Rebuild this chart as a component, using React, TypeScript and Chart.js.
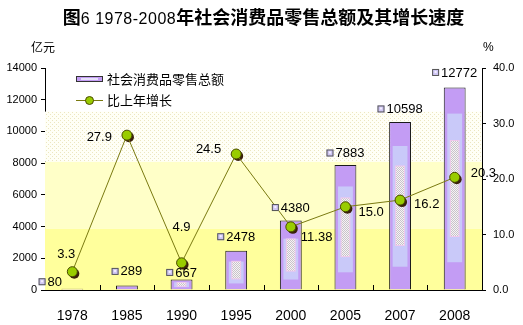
import React, { useEffect, useRef } from "react";
import { Chart, registerables } from "chart.js";

Chart.register(...registerables);

// ---------- data ----------
const titleBold1 = "图";
const titleNumbers = "6 1978-2008";
const titleBold2 = "年社会消费品零售总额及其增长速度";
const leftUnit = "亿元";
const rightUnit = "%";
const years = ["1978", "1985", "1990", "1995", "2000", "2005", "2007", "2008"];
const retailSales = [80, 289, 667, 2478, 4380, 7883, 10598, 12772];
const retailLabels = ["80", "289", "667", "2478", "4380", "7883", "10598", "12772"];
const growthRate = [3.3, 27.9, 4.9, 24.5, 11.38, 15.0, 16.2, 20.3];
const growthLabels = ["3.3", "27.9", "4.9", "24.5", "11.38", "15.0", "16.2", "20.3"];
const seriesNames = ["社会消费品零售总额", "比上年增长"];
const leftAxis = { min: 0, max: 14000, step: 2000 };
const rightAxis = { min: 0, max: 40, step: 10 };
const bandLimits = [3850, 8100, 11250];

// ---------- styles ----------
const VIOLET = "#c39cf4";
const LAVENDER = "#c9c9f9";
const LINE_COLOR = "#7a7a10";
const POINT_FILL = "#99cc00";
const POINT_BORDER = "#4a4a00";
const LABEL_FONT = '13px "Liberation Sans", Arial, sans-serif';
const CJK_FONT = '13px "Noto Sans CJK SC", sans-serif';

// label placement: [dx, dy, align]
const growthLabelPos: [number, number, CanvasTextAlign][] = [
  [-6, -17, "center"],
  [-15, 2, "right"],
  [0, -35, "center"],
  [-15, -5, "right"],
  [10, 11, "left"],
  [13, 6, "left"],
  [14, 4, "left"],
  [16, -4, "left"],
];
const barLabelPos: [number, number][] = [
  [-22, -7],
  [0, -14],
  [0, -7],
  [0, -14],
  [0, -13],
  [0, -12],
  [0, -13],
  [0, -15],
];

function makePattern(ctx: CanvasRenderingContext2D, base: string, dot: string, size: number) {
  const c = document.createElement("canvas");
  c.width = size;
  c.height = size;
  const g = c.getContext("2d")!;
  g.fillStyle = base;
  g.fillRect(0, 0, size, size);
  g.fillStyle = dot;
  g.fillRect(0, 0, 1, 1);
  g.fillRect(size / 2, size / 2, 1, 1);
  return ctx.createPattern(c, "repeat")!;
}

const decorPlugin = {
  id: "decor",
  beforeDatasetsDraw(chart: any) {
    const { ctx, chartArea } = chart;
    const y = chart.scales.y;
    const l = chartArea.left;
    const w = chartArea.right - chartArea.left;
    ctx.save();
    const p0 = y.getPixelForValue(0);
    const p1 = y.getPixelForValue(bandLimits[0]);
    const p2 = y.getPixelForValue(bandLimits[1]);
    const p3 = y.getPixelForValue(bandLimits[2]);
    ctx.fillStyle = "#ffff9c";
    ctx.fillRect(l, p1, w, p0 - p1);
    ctx.fillStyle = "#ffffc8";
    ctx.fillRect(l, p2, w, p1 - p2);
    ctx.fillStyle = makePattern(ctx, "#fffff6", "#ece6c0", 4);
    ctx.fillRect(l, p3, w, p2 - p3);
    ctx.restore();
  },
  beforeDatasetDraw(chart: any, args: any) {
    if (args.index !== 1) return;
    const { ctx } = chart;
    const meta = chart.getDatasetMeta(1);
    ctx.save();
    ctx.fillStyle = "#3a200c";
    meta.data.forEach((pt: any) => {
      ctx.beginPath();
      ctx.arc(pt.x + 2, pt.y + 2, 5, 0, Math.PI * 2);
      ctx.fill();
    });
    ctx.restore();
  },
  afterDatasetDraw(chart: any, args: any) {
    if (args.index !== 0) return;
    const { ctx } = chart;
    const meta = chart.getDatasetMeta(0);
    const dots = makePattern(ctx, "#f6f2f6", "#c8c4c8", 2);
    ctx.save();
    meta.data.forEach((bar: any) => {
      const h = bar.base - bar.y;
      if (h < 6) return;
      const left = bar.x - bar.width / 2;
      const right = bar.x + bar.width / 2;
      const lt = Math.min(0.06 * h + 14, 0.28 * h);
      const lb = 0.13 * h + 1;
      ctx.fillStyle = LAVENDER;
      ctx.fillRect(left + 3.5, bar.y + lt, right - left - 7, h - lt - lb);
      const wt = 0.26 * h;
      const wb = 0.26 * h;
      ctx.fillStyle = "#f0c8ec";
      ctx.fillRect(left + 6, bar.y + wt, right - left - 12, h - wt - wb);
      ctx.fillStyle = dots;
      ctx.fillRect(left + 7, bar.y + wt + 1, right - left - 14, h - wt - wb - 2);
    });
    ctx.restore();
  },
  afterDraw(chart: any) {
    const { ctx, chartArea } = chart;
    ctx.save();
    // category boundary ticks (pointing up)
    const n = years.length;
    const cw = (chartArea.right - chartArea.left) / n;
    ctx.strokeStyle = "#000";
    ctx.lineWidth = 1;
    for (let i = 1; i < n; i++) {
      const x = Math.round(chartArea.left + i * cw) + 0.5;
      ctx.beginPath();
      ctx.moveTo(x, chartArea.bottom);
      ctx.lineTo(x, chartArea.bottom - 5);
      ctx.stroke();
    }

    // bar value labels
    const barMeta = chart.getDatasetMeta(0);
    ctx.font = LABEL_FONT;
    ctx.textBaseline = "middle";
    barMeta.data.forEach((bar: any, i: number) => {
      const text = retailLabels[i];
      const tw = ctx.measureText(text).width;
      const total = 6 + 3 + tw;
      const [dx, dy] = barLabelPos[i];
      const x0 = bar.x + dx - total / 2;
      const yc = bar.y + dy;
      ctx.fillStyle = "#cfc6f4";
      ctx.fillRect(x0, yc - 3.5, 7, 7);
      ctx.strokeStyle = "#555";
      ctx.strokeRect(x0 + 0.5, yc - 3.5 + 0.5, 6, 6);
      ctx.fillStyle = "#f4f0ff";
      ctx.fillRect(x0 + 2.5, yc - 1.5, 2, 2);
      ctx.fillStyle = "#000";
      ctx.textAlign = "left";
      ctx.fillText(text, x0 + 9, yc + 0.5);
    });

    // growth labels
    const lineMeta = chart.getDatasetMeta(1);
    lineMeta.data.forEach((pt: any, i: number) => {
      const [dx, dy, align] = growthLabelPos[i];
      ctx.textAlign = align;
      ctx.fillStyle = "#000";
      ctx.fillText(growthLabels[i], pt.x + dx, pt.y + dy);
    });

    // legend
    ctx.fillStyle = VIOLET;
    ctx.fillRect(76, 76, 27, 6);
    ctx.fillStyle = "#e6e0fa";
    ctx.fillRect(81, 78, 17, 2);
    ctx.strokeStyle = "#333";
    ctx.strokeRect(76.5, 76.5, 26, 5);
    ctx.font = CJK_FONT;
    ctx.textAlign = "left";
    ctx.fillStyle = "#000";
    ctx.fillText(seriesNames[0], 107, 79);

    ctx.strokeStyle = LINE_COLOR;
    ctx.beginPath();
    ctx.moveTo(76, 100.5);
    ctx.lineTo(103, 100.5);
    ctx.stroke();
    ctx.beginPath();
    ctx.arc(89.5, 100.5, 4, 0, Math.PI * 2);
    ctx.fillStyle = POINT_FILL;
    ctx.fill();
    ctx.strokeStyle = POINT_BORDER;
    ctx.stroke();
    ctx.fillStyle = "#000";
    ctx.fillText(seriesNames[1], 107, 100);
    ctx.restore();
  },
};

export default function App() {
  const canvasRef = useRef<HTMLCanvasElement | null>(null);

  useEffect(() => {
    document.body.style.margin = "0";
    const canvas = canvasRef.current;
    if (!canvas) return;
    const chart = new Chart(canvas, {
      data: {
        labels: years,
        datasets: [
          {
            type: "bar",
            label: seriesNames[0],
            data: retailSales,
            yAxisID: "y",
            backgroundColor: VIOLET,
            borderColor: "#1a1a1a",
            borderWidth: 1,
            barPercentage: 0.4,
            categoryPercentage: 1,
            order: 1,
          },
          {
            type: "line",
            label: seriesNames[1],
            data: growthRate,
            yAxisID: "y1",
            borderColor: LINE_COLOR,
            borderWidth: 1,
            pointRadius: 5,
            pointBackgroundColor: POINT_FILL,
            pointBorderColor: POINT_BORDER,
            pointBorderWidth: 1,
            tension: 0,
            order: 0,
          },
        ],
      } as any,
      options: {
        responsive: false,
        animation: false,
        events: [],
        layout: { padding: { top: 68, left: 0, right: 0, bottom: 0 } },
        plugins: {
          legend: { display: false },
          tooltip: { enabled: false },
          title: { display: false },
        },
        scales: {
          x: {
            offset: true,
            grid: { display: false },
            border: { color: "#000", width: 1 },
            ticks: {
              color: "#000",
              font: { family: '"Liberation Sans", Arial, sans-serif', size: 14 },
              padding: 10,
              maxRotation: 0,
            },
            afterFit: (s: any) => {
              s.height = 35;
            },
          },
          y: {
            position: "left",
            min: leftAxis.min,
            max: leftAxis.max,
            ticks: {
              stepSize: leftAxis.step,
              color: "#000",
              font: { family: '"Liberation Sans", Arial, sans-serif', size: 11 },
              padding: 4,
              callback: (v: any) => String(v),
            },
            grid: { drawOnChartArea: false, drawTicks: true, tickLength: 4, color: "#000" },
            border: { color: "#000", width: 1 },
            afterFit: (s: any) => {
              s.width = 45;
            },
          },
          y1: {
            position: "right",
            min: rightAxis.min,
            max: rightAxis.max,
            ticks: {
              stepSize: rightAxis.step,
              color: "#000",
              font: { family: '"Liberation Sans", Arial, sans-serif', size: 11 },
              padding: 7,
              callback: (v: any) => Number(v).toFixed(1),
            },
            grid: { drawOnChartArea: false, drawTicks: true, tickLength: 4, color: "#000" },
            border: { color: "#000", width: 1 },
            afterFit: (s: any) => {
              s.width = 41;
            },
          },
        },
      } as any,
      plugins: [decorPlugin],
    });
    return () => chart.destroy();
  }, []);

  return (
    <div style={{ position: "relative", width: 523, height: 325, background: "#fff", overflow: "hidden" }}>
      <canvas ref={canvasRef} width={523} height={325} style={{ width: 523, height: 325, display: "block" }} />
      <div
        style={{
          position: "absolute",
          top: 6,
          left: 0,
          width: 527,
          textAlign: "center",
          lineHeight: "20px",
          fontFamily: '"Noto Sans CJK SC", sans-serif',
          fontWeight: "bold",
          fontSize: 18,
          color: "#000",
          whiteSpace: "nowrap",
        }}
      >
        <span>{titleBold1}</span>
        <span
          style={{
            fontWeight: 400,
            fontFamily: '"Liberation Sans", Arial, sans-serif',
            fontSize: 16,
            letterSpacing: "0.5px",
          }}
        >
          {titleNumbers}
        </span>
        <span>{titleBold2}</span>
      </div>
      <div
        style={{
          position: "absolute",
          left: 31,
          top: 39,
          fontFamily: '"Noto Sans CJK SC", sans-serif',
          fontSize: 12,
          lineHeight: "16px",
          color: "#000",
        }}
      >
        {leftUnit}
      </div>
      <div
        style={{
          position: "absolute",
          left: 483,
          top: 39,
          fontFamily: '"Liberation Sans", Arial, sans-serif',
          fontSize: 12,
          lineHeight: "16px",
          color: "#000",
        }}
      >
        {rightUnit}
      </div>
    </div>
  );
}
